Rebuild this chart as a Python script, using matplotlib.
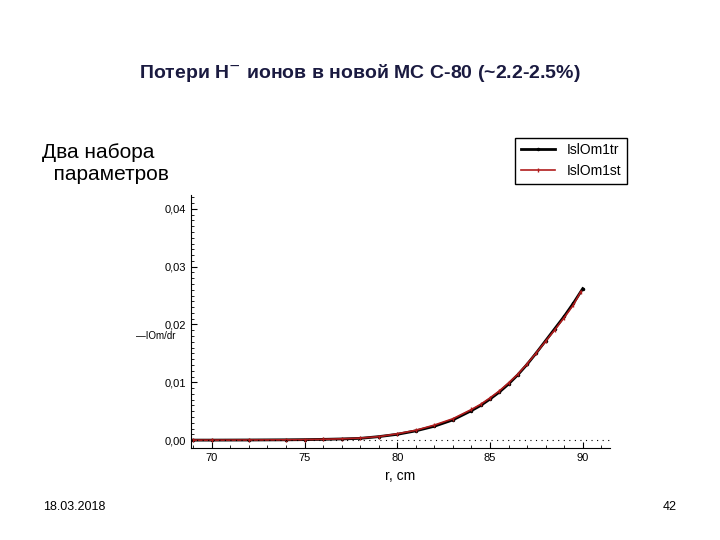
import numpy as np
import matplotlib.pyplot as plt

plt.rcParams['font.family'] = ['Liberation Sans', 'DejaVu Sans']

r_tr = [69.0, 70, 72, 74, 75, 76, 77, 78, 79, 80, 81, 82, 83, 84, 84.5, 85, 85.5, 86, 86.5,
        87, 87.5, 88, 88.5, 89, 89.5, 90]
loss_tr = [0.0, 0.0, 0.00002, 0.00005, 0.00008, 0.00013, 0.0002, 0.0003, 0.0006, 0.0010,
           0.0016, 0.0024, 0.0035, 0.0051, 0.0060, 0.0071, 0.0083, 0.0097, 0.0113, 0.0131,
           0.0151, 0.0172, 0.0193, 0.0214, 0.0237, 0.0262]
r_st = [69.0, 70, 72, 74, 75, 76, 77, 78, 79, 80, 81, 82, 83, 84, 84.5, 85, 85.5, 86, 86.5,
        87, 87.5, 88, 88.5, 89, 89.5, 89.9]
loss_st = [0.0, 0.0, 0.00002, 0.00005, 0.00008, 0.00014, 0.00022, 0.00035, 0.0006, 0.0011,
           0.0017, 0.0026, 0.0037, 0.0053, 0.0062, 0.0073, 0.0085, 0.0099, 0.0114, 0.0132,
           0.0151, 0.0171, 0.0191, 0.0212, 0.0234, 0.0257]

fig = plt.figure(figsize=(7.2, 5.4), dpi=100)
fig.text(0.5, 0.855, 'Потери H$^{\\mathsf{-}}$ ионов в новой МС С-80 (~2.2-2.5%)',
         ha='center', fontsize=14, fontweight='bold', color='#1a1a40')
fig.text(0.058, 0.66, 'Два набора\n  параметров', fontsize=15, va='bottom', linespacing=1.2)
fig.text(0.06, 0.055, '18.03.2018', fontsize=9)
fig.text(0.94, 0.055, '42', fontsize=9, ha='right')

ax = fig.add_axes([0.265, 0.170, 0.582, 0.469])
ax.plot(r_tr, loss_tr, color='black', lw=2, marker='.', ms=3, label='IslOm1tr')
ax.plot(r_st, loss_st, color='#b01c1c', lw=1.2, marker='|', ms=3, label='IslOm1st')
ax.axhline(0, color='black', ls=(0, (1, 4)), lw=0.8)
ax.set_xlim(68.87, 91.46)
ax.set_ylim(-0.0014, 0.0424)
ax.set_xticks([70, 75, 80, 85, 90])
ax.set_xticks(np.arange(69, 92, 1), minor=True)
ax.set_yticks([0, 0.01, 0.02, 0.03, 0.04])
ax.set_yticks(np.arange(0, 0.0425, 0.001), minor=True)
ax.set_yticklabels(['0,00', '0,01', '0,02', '0,03', '0,04'])
ax.tick_params(labelsize=8, direction='in', length=4)
ax.tick_params(which='minor', direction='in', length=2)
ax.spines['top'].set_visible(False)
ax.spines['right'].set_visible(False)
ax.set_xlabel('r, cm', fontsize=10)
ax.text(-0.13, 0.43, '—IOm/dr', transform=ax.transAxes, fontsize=7, ha='left')
fig.legend(loc='upper right', bbox_to_anchor=(0.88, 0.758), fontsize=10,
           fancybox=False, edgecolor='black', framealpha=1, handlelength=2.5)
fig.savefig('out.png', dpi=100)
